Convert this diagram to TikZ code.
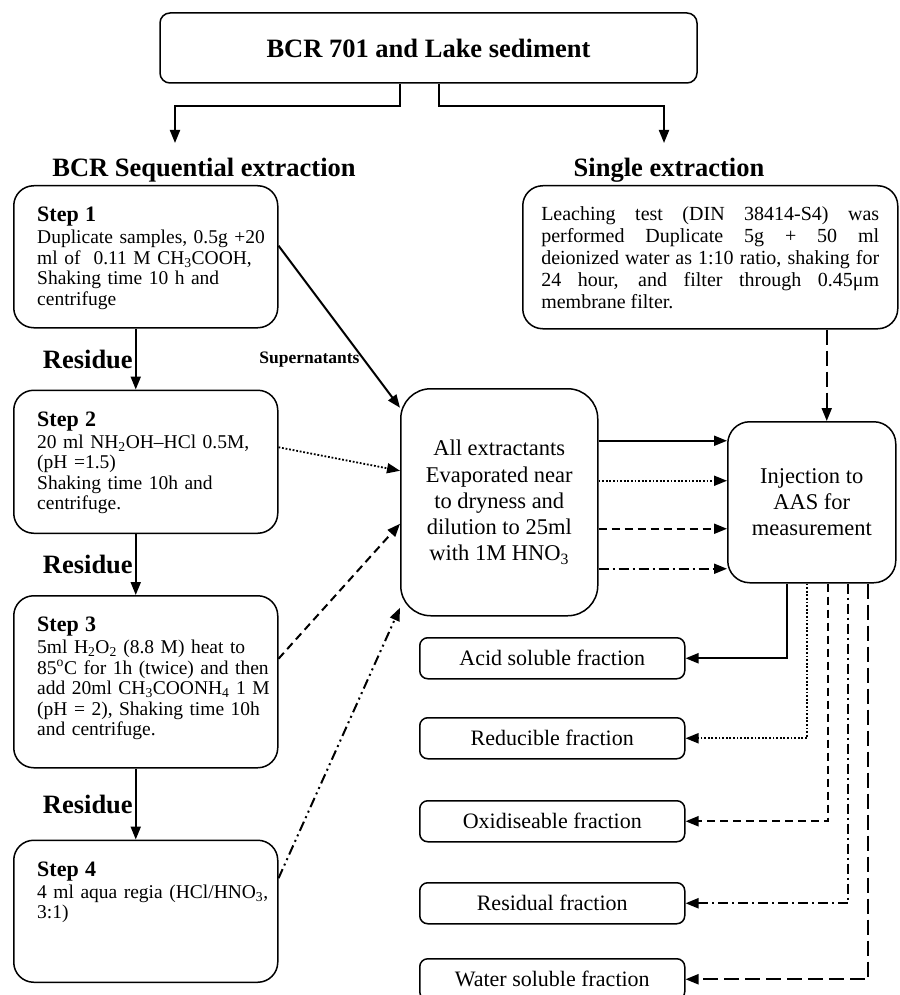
\documentclass[tikz,border=0pt]{standalone}
\usepackage{fontspec}
\setmainfont{Liberation Serif}
\usetikzlibrary{arrows.meta,positioning,calc}

\begin{document}
\begin{tikzpicture}[x=1pt,y=-1pt,
  rbox/.style={draw,line width=1.5pt,rounded corners=#1,inner sep=0pt},
  rbox/.default=20pt,
  heading/.style={font=\fontsize{26.5}{28}\selectfont\bfseries,anchor=base,inner sep=0pt},
  steptxt/.style={anchor=north west,inner sep=0pt,text width=245pt,align=left,
    font=\fontsize{19.5}{20.5}\selectfont},
  bigtxt/.style={align=center,font=\fontsize{22.5}{26.3}\selectfont},
  fracbox/.style={rbox=8pt,anchor=north west,minimum width=265pt,minimum height=41pt,
    font=\fontsize{22}{24}\selectfont},
  reslbl/.style={left,font=\fontsize{26.5}{28}\selectfont\bfseries,inner sep=2pt},
  arr/.style={-{Triangle[length=13pt,width=10pt]},line width=2pt},
  dotline/.style={dash pattern=on 1.8pt off 1.8pt,line width=1.8pt},
  dashline/.style={dash pattern=on 8pt off 5pt},
  dashdot/.style={dash pattern=on 10pt off 4pt on 2pt off 4pt},
  dashdotdot/.style={dash pattern=on 10pt off 4pt on 2pt off 4pt on 2pt off 4pt},
  longdash/.style={dash pattern=on 15pt off 6pt}]
\useasboundingbox (0,0) rectangle (899,995);

% sample and the two routes
\node[rbox=10pt,minimum width=537pt,minimum height=70pt,
  font=\fontsize{26.5}{28}\selectfont\bfseries] (top) at (428.5,48) {BCR 701 and Lake sediment};
\node[heading] (seqhead) at (204,176) {BCR Sequential extraction};
\node[heading] (singhead) at (669,176) {Single extraction};
\coordinate (seqin) at (175,143);
\coordinate (singin) at (664,143);
\draw[arr] ([xshift=-28.5pt]top.south) -- ++(0,22) -| (seqin);
\draw[arr] ([xshift=10.5pt]top.south) -- ++(0,22) -| (singin);

% sequential steps
\node[rbox,anchor=north west,minimum width=264pt,minimum height=142pt] (s1) at (13,185) {};
\node[rbox,below=61pt of s1,minimum width=264pt,minimum height=143pt] (s2) {};
\node[rbox,below=61pt of s2,minimum width=264pt,minimum height=172pt] (s3) {};
\node[rbox,below=71pt of s3,minimum width=264pt,minimum height=142pt] (s4) {};
\node[steptxt] (s1t) at ([shift={(24,22)}]s1.north west) {{\fontsize{22}{24}\selectfont\bfseries Step 1}\\[1.5pt]
  Duplicate samples, 0.5g +20\\ ml of~~0.11 M CH\textsubscript{3}COOH,\\ Shaking time 10 h and\\ centrifuge};
\node[steptxt] (s2t) at ([shift={(24,22)}]s2.north west) {{\fontsize{22}{24}\selectfont\bfseries Step 2}\\[1.5pt]
  20 ml NH\textsubscript{2}OH--HCl 0.5M,\\ (pH =1.5)\\ Shaking time 10h and\\ centrifuge.};
\node[steptxt] (s3t) at ([shift={(24,22)}]s3.north west) {{\fontsize{22}{24}\selectfont\bfseries Step 3}\\[1.5pt]
  5ml H\textsubscript{2}O\textsubscript{2} (8.8 M) heat to\\ 85\textsuperscript{o}C for 1h (twice) and then\\
  add 20ml CH\textsubscript{3}COONH\textsubscript{4} 1 M\\ (pH = 2), Shaking time 10h\\ and centrifuge.};
\node[steptxt] (s4t) at ([shift={(24,22)}]s4.north west) {{\fontsize{22}{24}\selectfont\bfseries Step 4}\\[1.5pt]
  4 ml aqua regia (HCl/HNO\textsubscript{3},\\ 3:1)};
\draw[arr] ([xshift=-10pt]s1.south) -- node[reslbl] (r1) {Residue} ([xshift=-10pt]s2.north);
\draw[arr] ([xshift=-10pt]s2.south) -- node[reslbl] (r2) {Residue} ([xshift=-10pt]s3.north);
\draw[arr] ([xshift=-10pt]s3.south) -- node[reslbl] (r3) {Residue} ([xshift=-10pt]s4.north);

% single extraction
\node[rbox,anchor=north west,minimum height=143pt,text width=338pt,inner xsep=18.5pt,
  align=justify,font=\fontsize{20}{22}\selectfont] (single) at (522,185)
  {Leaching test (DIN 38414-S4) was\linebreak performed Duplicate 5g + 50 ml\linebreak
   deionized water as 1:10 ratio, shaking for\linebreak 24 hour, and filter through 0.45μm\linebreak
   membrane filter.};

% treatment and measurement
\node[rbox=30pt,anchor=north west,minimum width=197pt,minimum height=227pt,bigtxt] (ext) at (400,388)
  {All extractants\\Evaporated near\\to dryness and\\dilution to 25ml\\with 1M HNO\textsubscript{3}};
\node[rbox=22pt,anchor=north west,minimum width=168pt,minimum height=161pt,bigtxt] (aas) at (727,421)
  {Injection to\\AAS for\\measurement};
\coordinate (aasin) at ([xshift=15pt]aas.north);

% fractions
\node[fracbox] (acid) at (419,637) {Acid soluble fraction};
\node[fracbox] (red) at (419,717) {Reducible fraction};
\node[fracbox] (ox) at (419,800) {Oxidiseable fraction};
\node[fracbox] (resid) at (419,882) {Residual fraction};
\node[fracbox] (water) at (419,958) {Water soluble fraction};

% extracts to evaporation
\draw[arr] ([yshift=11pt]s1.east) -- node[pos=0.7,left,inner sep=3pt,
  font=\fontsize{17.5}{19}\selectfont\bfseries] (sup) {Supernatants} ([yshift=94.5pt]ext.west);
\draw[arr,dotline] ([yshift=14.5pt]s2.east) -- ([yshift=31.5pt]ext.west);
\draw[arr,dashline] ([yshift=23pt]s3.east) -- ([yshift=-21.5pt]ext.west);
\draw[arr,dashdotdot] ([yshift=33pt]s4.east) -- ([yshift=-105.5pt]ext.west);

% evaporation to AAS
\draw[arr] ([yshift=61.5pt]ext.east) -- ([yshift=61.5pt]ext.east -| aas.west);
\draw[arr,dotline] ([yshift=21.5pt]ext.east) -- ([yshift=21.5pt]ext.east -| aas.west);
\draw[arr,dashline] ([yshift=-26.5pt]ext.east) -- ([yshift=-26.5pt]ext.east -| aas.west);
\draw[arr,dashdot] ([yshift=-66.5pt]ext.east) -- ([yshift=-66.5pt]ext.east -| aas.west);
\draw[arr,longdash] (aasin |- single.south) -- (aasin);

% AAS to fractions
\draw[arr] ([xshift=-25pt]aas.south) |- (acid.east);
\draw[arr,dotline] ([xshift=-5pt]aas.south) |- (red.east);
\draw[arr,dashline] ([xshift=16pt]aas.south) |- (ox.east);
\draw[arr,dashdot] ([xshift=36pt]aas.south) |- (resid.east);
\draw[arr,longdash] ([xshift=56pt]aas.south) |- (water.east);
\end{tikzpicture}
\end{document}
